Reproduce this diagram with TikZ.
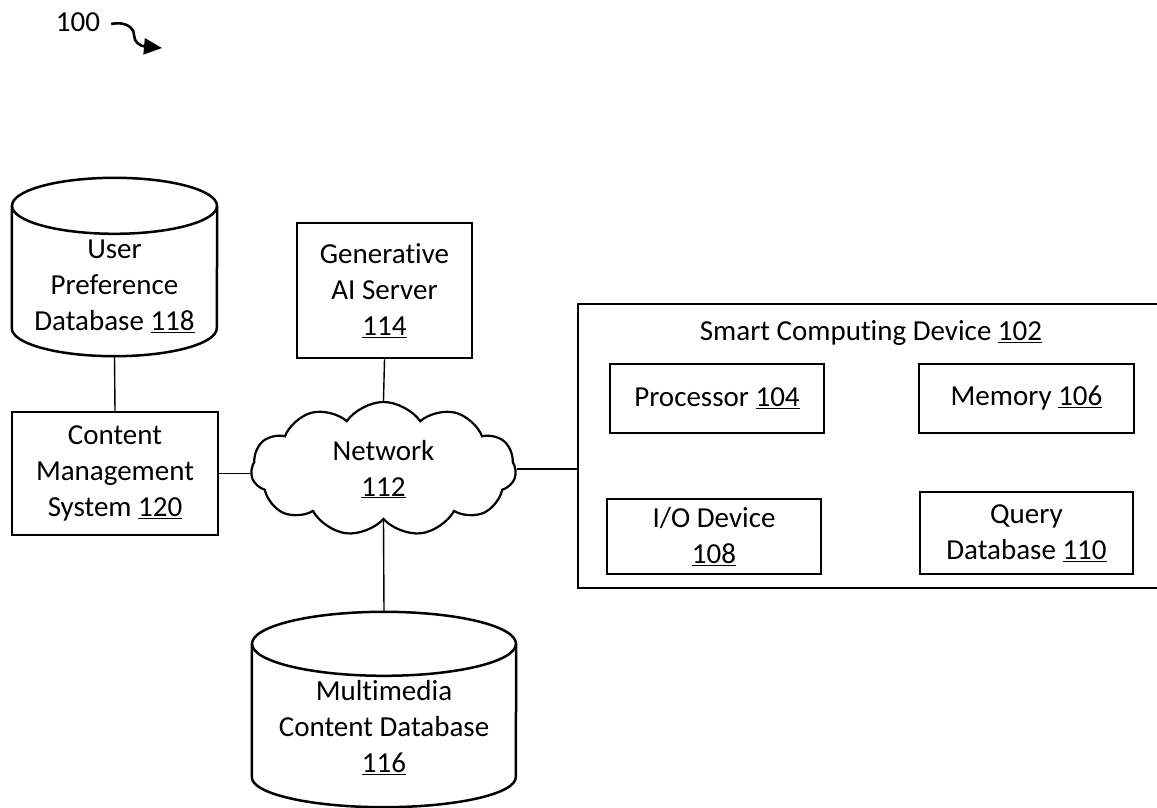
\documentclass[tikz,border=0pt]{standalone}
\usepackage{fontspec}
\setmainfont{Carlito}[Ligatures=NoCommon]
\usetikzlibrary{shapes.symbols,arrows.meta}

\newcommand\refnum[1]{\underline{#1}}

\tikzset{
  lbl/.style={font=\fontsize{29}{36}\selectfont, align=center, inner sep=0pt},
  blk/.style={lbl, draw, line width=2.5pt},
  body/.style={inner sep=0pt},
  cylline/.style={line width=2.5pt},
  wire/.style={line width=1.4pt},
}

\begin{document}
\begin{tikzpicture}[x=1pt, y=-1pt]
\useasboundingbox (0,0) rectangle (1157,808);
\clip (0,0) rectangle (1157,808);

% figure label with curved pointer
\node[lbl] (fig) at (78,22) {100};
\coordinate (figtip) at (162,48);
\draw[line width=2.6pt, -{Triangle[length=18pt,width=16pt]}]
  ([xshift=11pt,yshift=-2pt]fig.east) .. controls (126,21) and (134,28) .. (134,35)
  .. controls (134,42) and (140,46) .. (figtip);

% user preference database (cylinder)
\node[body, minimum width=205pt, minimum height=178pt] (upd) at (114.5,267) {};
\draw[cylline] ([yshift=-28pt]upd.north west) -- ([yshift=28pt]upd.south west)
  arc[start angle=180, end angle=360, x radius=102.5pt, y radius=28pt]
  -- ([yshift=-28pt]upd.north east);
\draw[cylline] ([yshift=-28pt]upd.north) ellipse[x radius=102.5pt, y radius=28pt];
\node[lbl] (updtext) at (114.5,286) {User\\Preference\\Database \refnum{118}};

% content management system
\node[blk, minimum width=206pt, minimum height=123pt] (cms) at (115,473.5)
  {Content\\Management\\System \refnum{120}};

% generative AI server
\node[blk, minimum width=175pt, minimum height=135pt] (ai) at (384.5,290.5)
  {Generative\\AI Server\\\refnum{114}};

% network cloud
\node[lbl, cloud, draw, line width=2.2pt, cloud puffs=11, cloud puff arc=110, aspect=2,
  minimum width=265pt, minimum height=134pt] (net) at (383.5,469)
  {Network\\\refnum{112}};

% multimedia content database (cylinder)
\node[body, minimum width=264pt, minimum height=195pt] (mcd) at (384,709.5) {};
\draw[cylline] ([yshift=-32pt]mcd.north west) -- ([yshift=30pt]mcd.south west)
  arc[start angle=180, end angle=360, x radius=132pt, y radius=30pt]
  -- ([yshift=-32pt]mcd.north east);
\draw[cylline] ([yshift=-32pt]mcd.north) ellipse[x radius=132pt, y radius=32pt];
\node[lbl] (mcdtext) at (384,728) {Multimedia\\Content Database\\\refnum{116}};

% smart computing device and its parts
\node[draw, line width=2.5pt, minimum width=586pt, minimum height=284pt, inner sep=0pt]
  (scd) at (871,446) {};
\node[lbl] (scdtitle) at (871,333) {Smart Computing Device \refnum{102}};
\node[blk, minimum width=214pt, minimum height=69pt] (cpu) at (717,398.5) {Processor \refnum{104}};
\node[blk, minimum width=215pt, minimum height=69pt] (mem) at (1026.5,398.5) {Memory \refnum{106}};
\node[blk, minimum width=214pt, minimum height=75pt] (io) at (714,536.5) {I/O Device\\\refnum{108}};
\node[blk, minimum width=213pt, minimum height=82pt] (qdb) at (1026.5,533) {Query\\Database \refnum{110}};

% connections
\draw[wire] (upd.south) -- (cms.north);
\draw[wire] (cms.east) -- (cms.east -| net.west);
\draw[wire] (net.east) -- (net.east -| scd.west);
\draw[wire] (ai.south) -- (net.north);
\draw[wire] (net.south) -- (mcd.north);
\end{tikzpicture}
\end{document}
